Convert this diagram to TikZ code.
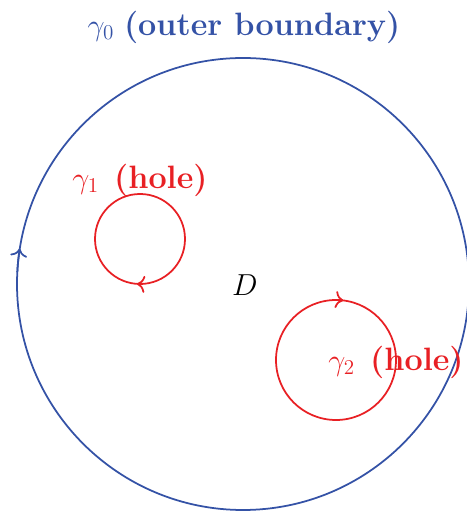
\documentclass[tikz,border=0pt]{standalone}
\usepackage{amsmath}
\usetikzlibrary{arrows.meta}
\definecolor{bndblue}{RGB}{52,82,166}
\definecolor{holered}{RGB}{232,32,36}
\begin{document}
\begin{tikzpicture}[every node/.style={circle, inner sep=0pt, outer sep=0pt}, >={Computer Modern Rightarrow[length=1.6mm, width=3.4mm]}, line width=1pt]
        \useasboundingbox (0,0) rectangle (9.32,10.26);
        \node[draw=bndblue, minimum size=9.04cm] (G0) at (4.86, 4.58) {};
        \node[draw=holered, minimum size=1.8cm] (G1) at (2.80, 5.48) {};
        \node[draw=holered, minimum size=2.4cm] (G2) at (6.72, 3.06) {};
        \draw[->, bndblue] (G0.177) arc (177:171:4.52);
        \draw[->, holered] (G1.274) arc (274:266:0.9);
        \draw[->, holered] (G2.90) arc (90:83:1.2);
        \node[bndblue, font=\fontsize{18.4}{22}\selectfont] (L0) at (4.88, 9.72) {$\gamma_0$ \textbf{(outer boundary)}};
        \node[holered, font=\fontsize{18.4}{22}\selectfont] (L1) at (2.80, 6.66) {$\gamma_1$\ \,\textbf{(hole)}};
        \node[holered, font=\fontsize{18.4}{22}\selectfont] (L2) at (7.92, 3.02) {$\gamma_2$\ \,\textbf{(hole)}};
        \node[font=\LARGE] (D) at (4.90, 4.56) {$D$};
    \end{tikzpicture}
\end{document}
